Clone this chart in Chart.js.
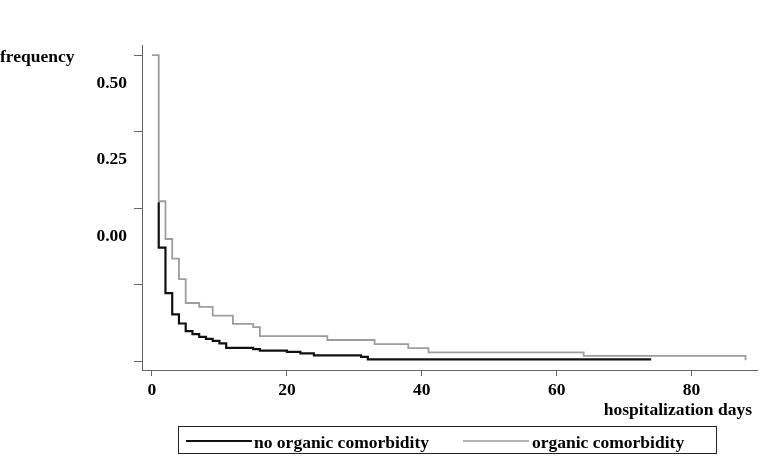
<!DOCTYPE html>
<html><head><meta charset="utf-8">
<script src="https://cdn.jsdelivr.net/npm/chart.js@4/dist/chart.umd.min.js"></script>
<style>html,body{margin:0;padding:0;background:#fff;} #wrap{width:775px;height:469px;}</style>
</head><body><div id="wrap"><canvas id="c" width="775" height="469"></canvas></div>
<script>
// ---- data ----
const seriesLabels = ['no organic comorbidity', 'organic comorbidity'];
const noOrgDays = [1, 1, 2, 3, 4, 5, 6, 7, 8, 9, 10, 11, 15, 16, 20, 22, 24, 31, 32, 74];
const noOrgFreq = [0.019, -0.129, -0.278, -0.347, -0.377, -0.402, -0.412, -0.421, -0.427, -0.434, -0.442, -0.457, -0.461, -0.466, -0.470, -0.475, -0.481, -0.486, -0.494, -0.494];
const orgDays = [0, 1, 2, 3, 4, 5, 7, 9, 12, 15, 16, 26, 33, 38, 41, 64, 88];
const orgFreq = [0.500, 0.0225, -0.101, -0.165, -0.232, -0.310, -0.323, -0.351, -0.378, -0.389, -0.418, -0.431, -0.4445, -0.4575, -0.4716, -0.4827, -0.497];
const xTickValues = [0, 20, 40, 60, 80];
const yTickValues = [0.5, 0.25, 0, -0.25, -0.5];
const yTickLabels = ['0.50', '0.25', '0.00', '', ''];
const yTitle = 'frequency';
const xTitle = 'hospitalization days';

// ---- styling ----
const FONT = "'Liberation Serif', 'Times New Roman', serif";
const FSIZE = 17.5;
const AXIS = '#666';
const toPts = (xs, ys) => xs.map((x, i) => ({ x: x, y: ys[i] }));

const textPlugin = {
  id: 'texts',
  afterDraw(chart) {
    const ctx = chart.ctx;
    ctx.save();
    ctx.font = 'bold ' + FSIZE + 'px ' + FONT;
    ctx.fillStyle = '#000';
    ctx.textBaseline = 'alphabetic';
    ctx.textAlign = 'left';
    ctx.fillText(yTitle, 0, 61.5);
    ctx.textAlign = 'right';
    ctx.fillText(xTitle, 752, 414.5);
    // legend box
    ctx.strokeStyle = '#222';
    ctx.lineWidth = 1;
    ctx.strokeRect(178.5, 426.5, 538, 27);
    const ds = chart.data.datasets;
    const slots = [{ x0: 186, x1: 252, tx: 254 }, { x0: 463, x1: 529, tx: 532 }];
    ds.forEach((d, i) => {
      const s = slots[i];
      ctx.beginPath();
      ctx.strokeStyle = d.borderColor;
      ctx.lineWidth = i === 0 ? 2 : 1.4;
      ctx.moveTo(s.x0, 441);
      ctx.lineTo(s.x1, 441);
      ctx.stroke();
      ctx.textAlign = 'left';
      ctx.fillStyle = '#000';
      ctx.fillText(d.label, s.tx, 447.5);
    });
    ctx.restore();
  }
};

new Chart(document.getElementById('c').getContext('2d'), {
  type: 'line',
  data: {
    datasets: [
      { label: seriesLabels[0], data: toPts(noOrgDays, noOrgFreq), borderColor: '#111', borderWidth: 2.2,
        stepped: true, pointRadius: 0, fill: false, borderCapStyle: 'butt', borderJoinStyle: 'miter' },
      { label: seriesLabels[1], data: toPts(orgDays, orgFreq), borderColor: '#9d9d9d', borderWidth: 1.8,
        stepped: true, pointRadius: 0, fill: false, borderCapStyle: 'butt', borderJoinStyle: 'miter' }
    ]
  },
  options: {
    responsive: false,
    animation: false,
    events: [],
    layout: { padding: { top: 45, right: 18, bottom: 0, left: 0 } },
    plugins: { legend: { display: false }, tooltip: { enabled: false } },
    scales: {
      x: {
        type: 'linear', min: -1.48, max: 89.7,
        afterBuildTicks: s => { s.ticks = xTickValues.map(v => ({ value: v })); },
        afterFit: s => { s.height = 99; },
        grid: { drawOnChartArea: false, drawTicks: true, tickLength: 6, color: AXIS, lineWidth: 1 },
        border: { display: true, color: AXIS, width: 1 },
        ticks: { font: { family: FONT, size: FSIZE, weight: 'bold' }, color: '#000', padding: 4,
                 maxRotation: 0, autoSkip: false, callback: v => String(v) }
      },
      y: {
        type: 'linear', min: -0.529, max: 0.533,
        afterBuildTicks: s => { s.ticks = yTickValues.map(v => ({ value: v })); },
        afterFit: s => { s.width = 142; },
        grid: { drawOnChartArea: false, drawTicks: true, tickLength: 8, color: AXIS, lineWidth: 1 },
        border: { display: true, color: AXIS, width: 1 },
        ticks: { font: { family: FONT, size: FSIZE, weight: 'bold' }, color: '#000', padding: 7,
                 labelOffset: 28, autoSkip: false,
                 callback: v => { const i = yTickValues.indexOf(v); return i >= 0 ? yTickLabels[i] : ''; } }
      }
    }
  },
  plugins: [textPlugin]
});
</script>
</body></html>
